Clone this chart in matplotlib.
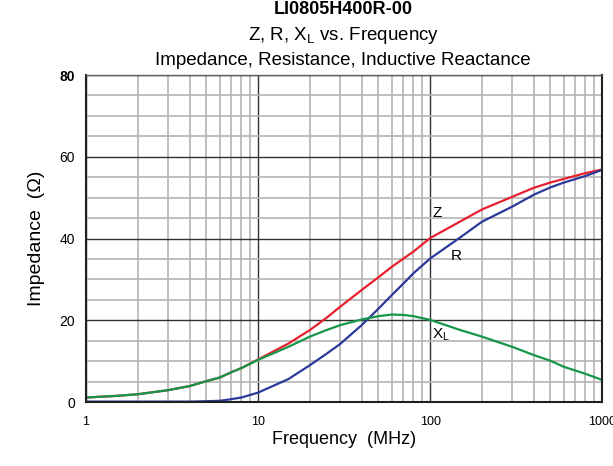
import numpy as np
import matplotlib
matplotlib.use('Agg')
import matplotlib.pyplot as plt
from matplotlib.ticker import FixedLocator, NullFormatter

plt.rcParams['font.family'] = ['Liberation Sans', 'DejaVu Sans']

# data (MHz, ohm)
freq = [1, 1.5, 2, 3, 4, 5, 6, 7, 8, 10, 15, 20, 25, 30, 40, 50, 60, 70, 80,
        100, 150, 200, 300, 400, 500, 600, 800, 1000]
z_vals = [1.1, 1.5, 1.9, 2.9, 3.9, 5.1, 6.0, 7.3, 8.3, 10.4, 14.3, 17.6, 20.6,
          23.3, 27.4, 30.5, 33.1, 35.1, 36.8, 40.1, 44.2, 47.1, 50.2, 52.4,
          53.7, 54.6, 56.0, 56.9]
r_vals = [0.1, 0.1, 0.1, 0.1, 0.1, 0.2, 0.3, 0.7, 1.1, 2.3, 5.6, 9.0, 11.8,
          14.2, 18.8, 22.8, 26.2, 29.0, 31.5, 35.1, 40.3, 44.1, 47.8, 50.7,
          52.5, 53.7, 55.3, 56.8]
x_vals = [1.1, 1.5, 1.9, 2.9, 3.9, 5.1, 6.0, 7.3, 8.3, 10.3, 13.5, 16.0, 17.6,
          18.8, 20.2, 21.0, 21.4, 21.3, 21.0, 20.1, 17.6, 16.0, 13.5, 11.5,
          10.1, 8.6, 6.9, 5.4]

fig = plt.figure(figsize=(6.13, 4.66), dpi=100)
ax = fig.add_axes([0.1403, 0.1373, 0.842, 0.7017])

ax.set_xscale('log')
ax.set_xlim(1, 1000)
ax.set_ylim(0, 80)

# grid
ax.xaxis.set_major_locator(FixedLocator([1, 10, 100, 1000]))
minors = [m * d for d in (1, 10, 100) for m in range(2, 10)]
ax.xaxis.set_minor_locator(FixedLocator(minors))
ax.xaxis.set_minor_formatter(NullFormatter())
ax.set_yticks([0, 20, 40, 60, 80])
ax.set_yticks(np.arange(5, 80, 5), minor=True)
ax.grid(True, which='minor', color='#b4b4b4', lw=1.2)
ax.grid(True, which='major', color='#303030', lw=1.0)
ax.set_axisbelow(True)
ax.tick_params(which='both', length=0)
ax.tick_params(axis='x', pad=10, labelsize=9)
ax.tick_params(axis='y', pad=8, labelsize=10)
ax.set_xticklabels(['1', '10', '100', '1000'])
ax.get_yticklabels()[-1].set_fontweight('bold')

for s in ('left', 'bottom', 'right'):
    ax.spines[s].set_color('#202020')
    ax.spines[s].set_linewidth(1.5)
ax.spines['top'].set_color('#606060')
ax.spines['top'].set_linewidth(1.0)

ax.plot(freq, z_vals, color='#e8202e', lw=1.6)
ax.plot(freq, r_vals, color='#2b3a9a', lw=1.6)
ax.plot(freq, x_vals, color='#15964a', lw=1.6)

ax.text(110, 46.2, 'Z', fontsize=11, ha='center', va='center')
ax.text(141, 35.7, 'R', fontsize=11, ha='center', va='center')
ax.text(116, 16.4, r'X$_\mathregular{L}$', fontsize=11, ha='center', va='center')

ax.set_xlabel('Frequency  (MHz)', fontsize=13, labelpad=2)
ax.set_ylabel('Impedance  (\u03a9)', fontsize=14, labelpad=10)

fig.text(0.56, 0.979, 'LI0805H400R-00', fontsize=13, fontweight='bold',
         ha='center', va='center')
fig.text(0.56, 0.923, r'Z, R, X$_\mathregular{L}$ vs. Frequency', fontsize=13.5,
         ha='center', va='center')
fig.text(0.56, 0.871, 'Impedance, Resistance, Inductive Reactance', fontsize=13.5,
         ha='center', va='center')

fig.savefig('out.png', dpi=100)
